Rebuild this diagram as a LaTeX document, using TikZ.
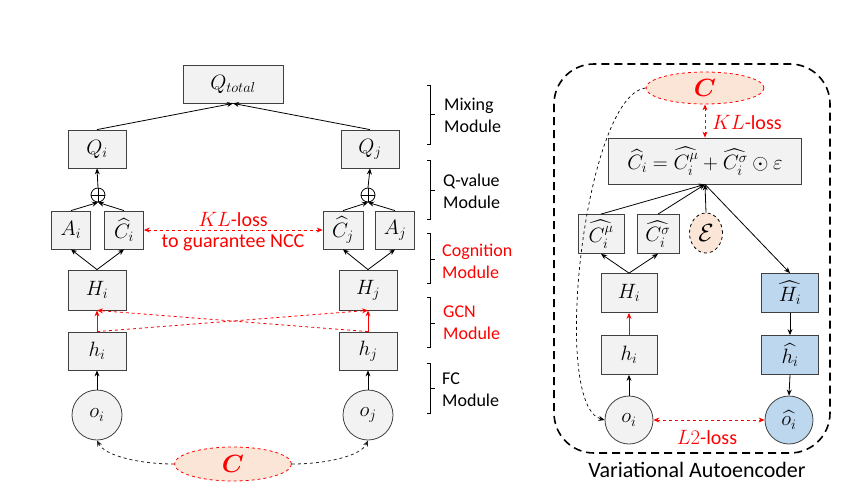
\documentclass[tikz,border=0pt]{standalone}
\usepackage{amsmath}
\usepackage{bm}
\usepackage{fontspec}
\setmainfont{Carlito}
\usetikzlibrary{arrows.meta,shapes.geometric}
\definecolor{boxfill}{HTML}{F2F2F2}
\definecolor{boxline}{HTML}{404040}
\definecolor{peach}{HTML}{FBE5D6}
\definecolor{lblue}{HTML}{BDD7EE}
\definecolor{myred}{HTML}{FF0000}
\tikzset{
  box/.style={draw=boxline, fill=boxfill, line width=0.8pt, minimum width=58pt, minimum height=38pt, inner sep=0pt, font=\fontsize{22}{26}\selectfont},
  bbox/.style={box, fill=lblue},
  circ/.style={circle, draw=boxline, fill=boxfill, line width=0.8pt, minimum size=50pt, inner sep=0pt, font=\fontsize{22}{26}\selectfont},
  cell/.style={ellipse, draw=myred, dashed, fill=peach, line width=0.8pt, inner sep=0pt, minimum width=117pt, minimum height=34pt, text=myred, font=\fontsize{24}{28}\selectfont},
  arr/.style={-{Stealth[length=6pt,width=5pt]}, line width=0.8pt},
  darr/.style={{Stealth[length=6pt,width=5pt]}-{Stealth[length=6pt,width=5pt]}, line width=0.8pt, dashed, myred},
  lab/.style={font=\fontsize{18}{22}\selectfont, align=left, anchor=west, inner sep=0pt},
  redtxt/.style={text=myred, font=\fontsize{20}{24}\selectfont, inner sep=0pt},
  brk/.style={line width=0.7pt},
}
\begin{document}
\begin{tikzpicture}[x=1pt,y=-1pt]
\useasboundingbox (0,0) rectangle (863,493);

% ---------- left diagram ----------
\node[box, minimum width=100pt] (Qt) at (233,84) {$Q_{total}$};
\node[box] (Qi) at (97,149) {$Q_i$};
\node[box] (Qj) at (370,149) {$Q_j$};
\node[circle, draw, line width=0.8pt, minimum size=14pt, inner sep=0pt] (pi) at (98,195) {};
\node[circle, draw, line width=0.8pt, minimum size=14pt, inner sep=0pt] (pj) at (368,195) {};
\draw[line width=0.8pt] (pi.north) -- (pi.south) (pi.west) -- (pi.east);
\draw[line width=0.8pt] (pj.north) -- (pj.south) (pj.west) -- (pj.east);
\node[box, minimum width=39pt] (Ai) at (71,230) {$A_i$};
\node[box, minimum width=39pt] (Ci) at (124,230) {$\widehat{C}_i$};
\node[box, minimum width=40pt] (Cj) at (343,230) {$\widehat{C}_j$};
\node[box, minimum width=39pt] (Aj) at (395,230) {$A_j$};
\node[box, minimum height=40pt] (Hi) at (97,290) {$H_i$};
\node[box, minimum height=40pt] (Hj) at (368,290) {$H_j$};
\node[box] (hi) at (97,351) {$h_i$};
\node[box] (hj) at (368,351) {$h_j$};
\node[circ] (oi) at (97,415) {$o_i$};
\node[circ] (oj) at (368,415) {$o_j$};
\node[cell] (C) at (233,464) {$\bm{C}$};

\draw[arr] (Qi.north) -- (Qt.south);
\draw[arr] (Qj.north) -- (Qt.south);
\draw[arr] (pi.north) -- (Qi.south);
\draw[arr] (pj.north) -- (Qj.south);
\draw[arr] (Ai.north) -- (pi.south);
\draw[arr] (Ci.north) -- (pi.south);
\draw[arr] (Cj.north) -- (pj.south);
\draw[arr] (Aj.north) -- (pj.south);
\draw[arr] (Hi.north) -- (Ai.south);
\draw[arr] (Hi.north) -- (Ci.south);
\draw[arr] (Hj.north) -- (Cj.south);
\draw[arr] (Hj.north) -- (Aj.south);
\draw[arr, myred] (hi.north) -- (Hi.south);
\draw[arr, myred] (hj.north) -- (Hj.south);
\draw[arr, myred, dashed] (hi.north) -- (Hj.south);
\draw[arr, myred, dashed] (hj.north) -- (Hi.south);
\draw[arr] (oi.north) -- (hi.south);
\draw[arr] (oj.north) -- (hj.south);
\draw[arr, dashed, black!85] (C.west) .. controls (140,464) and (105,456) .. (oi.south);
\draw[arr, dashed, black!85] (C.east) .. controls (326,464) and (361,456) .. (oj.south);

\draw[darr] (Ci.east) -- (Cj.west);
\node[redtxt] (kl1) at (233,219) {$KL$-loss};
\node[redtxt] (ncc) at (233,243) {to guarantee NCC};

% brackets and module labels
\draw[brk] (427,85) -- (430,85) -- (430,144) -- (427,144) (430,114) -- (435,114);
\draw[brk] (427,160) -- (430,160) -- (430,219) -- (427,219) (430,190) -- (435,190);
\draw[brk] (427,233) -- (430,233) -- (430,283) -- (427,283) (430,259) -- (435,259);
\draw[brk] (427,297) -- (430,297) -- (430,347) -- (427,347) (430,323) -- (435,323);
\draw[brk] (427,363) -- (430,363) -- (430,413) -- (427,413) (430,388) -- (435,388);
\node[lab] (m1) at (444,115) {Mixing\\Module};
\node[lab] (m2) at (443,191) {Q-value\\Module};
\node[lab, text=myred] (m3) at (442,261) {Cognition\\Module};
\node[lab, text=myred] (m4) at (443,323) {GCN\\Module};
\node[lab] (m5) at (442,390) {FC\\Module};

% ---------- right diagram ----------
\draw[line width=1.6pt, dash pattern=on 8pt off 5pt, rounded corners=40pt] (554,64) rectangle (830,453);
\node[cell, minimum width=118pt, minimum height=32pt] (C2) at (705,88) {$\bm{C}$};
\node[box, minimum width=193pt, minimum height=46pt, font=\fontsize{21}{25}\selectfont] (Cb) at (705,161) {$\widehat{C}_i=\widehat{C_i^{\mu}}+\widehat{C_i^{\sigma}}\odot\varepsilon$};
\draw[darr] (C2.south) -- (Cb.north);
\node[redtxt, anchor=west] (kl2) at (712,122) {$KL$-loss};
\node[box, minimum width=46pt, minimum height=39pt] (Cm) at (601,234) {$\widehat{C_i^{\mu}}$};
\node[box, minimum width=42pt, minimum height=39pt] (Cs) at (658,234) {$\widehat{C_i^{\sigma}}$};
\node[ellipse, draw=black, dashed, fill=peach, line width=0.8pt, minimum width=33pt, minimum height=40pt, inner sep=0pt, font=\fontsize{24}{28}\selectfont] (ep) at (706,233) {$\mathcal{E}$};
\draw[arr] (Cm.north) -- (Cb.south);
\draw[arr] (Cs.north) -- (Cb.south);
\draw[arr] (ep.north) -- (Cb.south);
\node[box, minimum width=56pt, minimum height=39pt] (Hi2) at (629,293) {$H_i$};
\node[box, minimum width=56pt, minimum height=39pt] (hi2) at (629,355) {$h_i$};
\node[circ, minimum size=48pt] (oi2) at (629,420) {$o_i$};
\node[bbox, minimum width=57pt, minimum height=39pt] (Hh) at (790,293) {$\widehat{H_i}$};
\node[bbox, minimum width=57pt, minimum height=39pt] (hh) at (790,355) {$\widehat{h_i}$};
\node[circ, fill=lblue, minimum size=48pt] (oh) at (789,420) {$\widehat{o_i}$};
\draw[arr] (Cb.south) -- (Hh.north);
\draw[arr] (Hh.south) -- (hh.north);
\draw[arr] (hh.south) -- (oh.north);
\draw[arr] (Hi2.north) -- (Cm.south);
\draw[arr] (Hi2.north) -- (Cs.south);
\draw[arr, myred] (hi2.north) -- (Hi2.south);
\draw[arr] (oi2.north) -- (hi2.south);
\draw[darr] (oi2.east) -- (oh.west);
\node[redtxt] (l2) at (707,437) {$L2$-loss};
\draw[arr, dashed, line width=0.7pt] (C2.west) .. controls (585,95) and (550,405) .. (oi2.west);
\node[font=\fontsize{22}{26}\selectfont, inner sep=0pt] (vae) at (697,470) {Variational Autoencoder};
\end{tikzpicture}
\end{document}
